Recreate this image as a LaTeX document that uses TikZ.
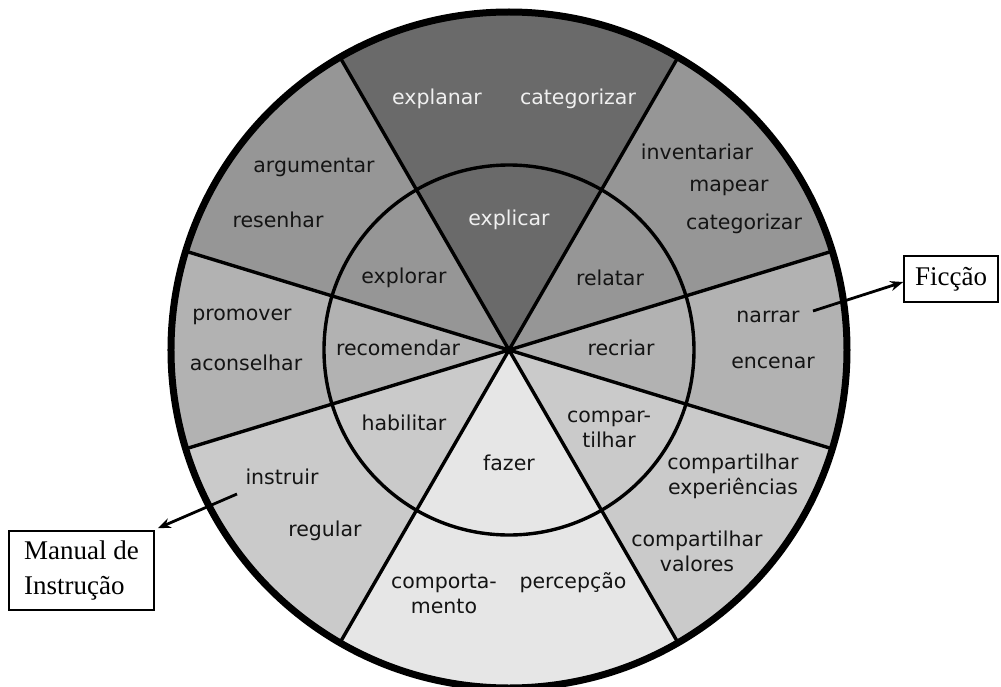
\documentclass[tikz,border=0pt]{standalone}
\usepackage{fontspec}
\setmainfont{Liberation Serif}
\newfontfamily\wheelfont{DejaVu Sans}
\usetikzlibrary{arrows.meta}
\definecolor{topgray}{RGB}{106,106,106}
\definecolor{uppergray}{RGB}{150,150,150}
\definecolor{midgray}{RGB}{178,178,178}
\definecolor{lowgray}{RGB}{202,202,202}
\definecolor{bottomgray}{RGB}{230,230,230}
\definecolor{inkgray}{RGB}{20,20,20}
\tikzset{
  wheeltext/.style={font=\wheelfont\fontsize{20.5}{25}\selectfont, text=inkgray,
    align=center, inner sep=0pt},
  lighttext/.style={wheeltext, text=white!94!black},
  genrebox/.style={draw, line width=1.5pt, font=\fontsize{27}{35}\selectfont,
    align=left, inner sep=0pt},
  pointer/.style={-{Stealth[length=13pt, width=10pt]}, line width=2.8pt}
}

\begin{document}
\begin{tikzpicture}[x=1pt, y=1pt]
  \useasboundingbox (-509,-336) rectangle (492,350);

  % Sectors of the wheel
  \foreach \a/\b/\c in {60/120/topgray, 17/60/uppergray, 120/163/uppergray,
      -17/17/midgray, 163/197/midgray, -60/-17/lowgray, 197/240/lowgray,
      240/300/bottomgray}
    \fill[\c] (0,0) -- (\a:338) arc[start angle=\a, end angle=\b, radius=338] -- cycle;

  % Spokes and rings
  \foreach \a in {17,60,120,163}
    \draw[line width=3.4pt] (\a:338) -- (\a+180:338);
  \draw[line width=3.4pt] (0,0) circle[radius=185];
  \draw[line width=7pt] (0,0) circle[radius=338];

  % Inner ring
  \node[lighttext] (explicar) at (0,130) {explicar};
  \node[wheeltext] (explorar) at (-105,72) {explorar};
  \node[wheeltext] (relatar) at (101,72) {relatar};
  \node[wheeltext] (recomendar) at (-111,2) {recomendar};
  \node[wheeltext] (recriar) at (112,2) {recriar};
  \node[wheeltext] (habilitar) at (-105,-73) {habilitar};
  \node[wheeltext] (compartilhar) at (100,-79) {compar-\\tilhar};
  \node[wheeltext] (fazer) at (0,-113) {fazer};

  % Outer ring
  \node[lighttext] (explanar) at (-72,251) {explanar};
  \node[lighttext] (categorizartop) at (69,251) {categorizar};
  \node[wheeltext] (argumentar) at (-195,183) {argumentar};
  \node[wheeltext] (resenhar) at (-231,130) {resenhar};
  \node[wheeltext] (inventariar) at (188,198) {inventariar};
  \node[wheeltext] (mapear) at (220,162) {mapear};
  \node[wheeltext] (categorizar) at (235,126) {categorizar};
  \node[wheeltext] (promover) at (-267,33) {promover};
  \node[wheeltext] (aconselhar) at (-263,-13) {aconselhar};
  \node[wheeltext] (narrar) at (259,33) {narrar};
  \node[wheeltext] (encenar) at (264,-13) {encenar};
  \node[wheeltext] (instruir) at (-227,-127) {instruir};
  \node[wheeltext] (regular) at (-184,-181) {regular};
  \node[wheeltext] (experiencias) at (224,-126) {compartilhar\\experiências};
  \node[wheeltext] (valores) at (188,-201) {compartilhar\\valores};
  \node[wheeltext] (comportamento) at (-65,-244) {comporta-\\mento};
  \node[wheeltext] (percepcao) at (64,-233) {percepção};

  % Genre boxes
  \node[genrebox, minimum width=94, minimum height=46] (ficcao) at (442,71) {Ficção};
  \node[genrebox, minimum width=145, minimum height=79] (manual) at (-427.5,-220.5)
    {Manual de\\Instrução};

  % Pointers
  \coordinate (narrarend) at (304,39);
  \coordinate (instruirend) at (-272,-144);
  \draw[pointer] (narrarend) -- ([yshift=-3pt]ficcao.west);
  \draw[pointer] (instruirend) -- ([xshift=3pt,yshift=2pt]manual.north east);
\end{tikzpicture}
\end{document}
